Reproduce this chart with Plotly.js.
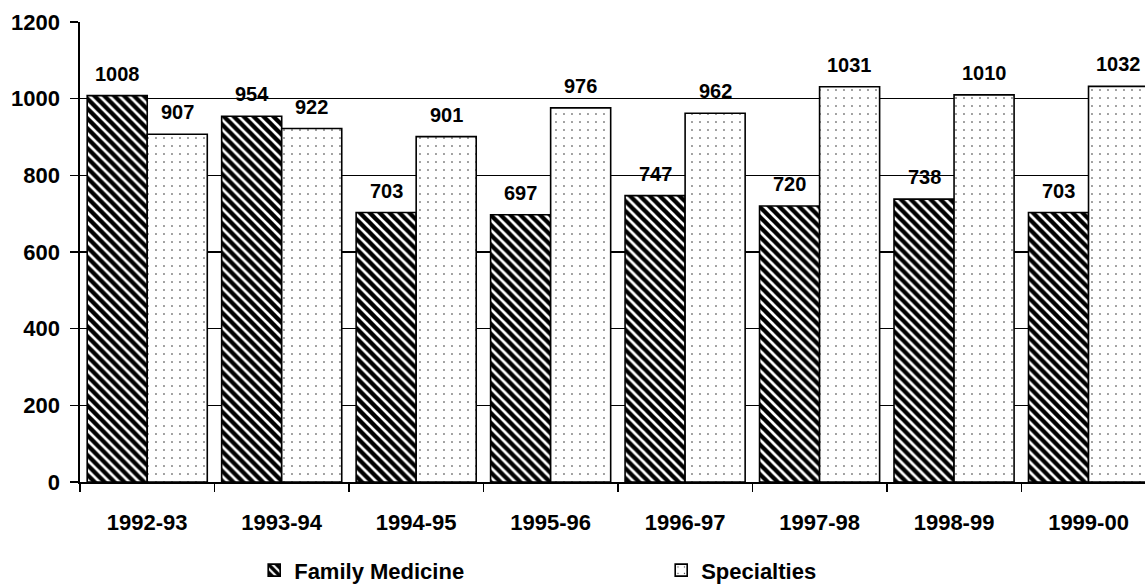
<!DOCTYPE html>
<html>
<head>
<meta charset="utf-8">
<script src="https://cdn.plot.ly/plotly-3.0.1.min.js"></script>
<style>
html,body{margin:0;padding:0;background:#fff;overflow:hidden;}
#chart{width:1145px;height:588px;}
</style>
</head>
<body>
<div id="chart"></div>
<script>
// ---- data ----
const years = ["1992-93","1993-94","1994-95","1995-96","1996-97","1997-98","1998-99","1999-00"];
const familyMedicine = [1008, 954, 703, 697, 747, 720, 738, 703];
const specialties = [907, 922, 901, 976, 962, 1031, 1010, 1032];
const seriesNames = ["Family Medicine", "Specialties"];
const yTicks = [0, 200, 400, 600, 800, 1000, 1200];

const FONT = "Liberation Sans, Arial, Helvetica, sans-serif";
const bargap = 0.107;
const half = (1 - bargap) / 4;

const traces = [
  {
    type: "bar", name: seriesNames[0], x: years, y: familyMedicine,
    marker: {
      color: "#ffffff",
      line: {color: "#000", width: 1.6},
      pattern: {shape: "\\", fgcolor: "#000", bgcolor: "#fff", size: 7, solidity: 0.62}
    },
    hoverinfo: "skip"
  },
  {
    type: "bar", name: seriesNames[1], x: years, y: specialties,
    marker: {
      color: "#ffffff",
      line: {color: "#000", width: 1.6},
      pattern: {shape: ".", fgcolor: "#222", bgcolor: "#fff", size: 8, solidity: 0.03}
    },
    hoverinfo: "skip"
  }
];

const labelFont = {family: FONT, size: 20, color: "#000", weight: 700};
const annotations = [];
years.forEach((yr, i) => {
  annotations.push({x: i - half, y: familyMedicine[i], xref: "x", yref: "y", text: String(familyMedicine[i]),
    showarrow: false, yanchor: "bottom", yshift: 9, font: labelFont});
  annotations.push({x: i + half, y: specialties[i], xref: "x", yref: "y", text: String(specialties[i]),
    showarrow: false, yanchor: "bottom", yshift: 9, font: labelFont});
});

const layout = {
  width: 1145, height: 588,
  margin: {l: 80, r: 0, t: 22, b: 106, autoexpand: false},
  paper_bgcolor: "#fff", plot_bgcolor: "#fff",
  barmode: "group", bargap: bargap, bargroupgap: 0,
  showlegend: true,
  legend: {
    orientation: "h", xref: "container", x: 0.222, xanchor: "left",
    yref: "container", y: 0.03, yanchor: "middle",
    font: {family: FONT, size: 22, color: "#000", weight: 700},
    entrywidth: 362, entrywidthmode: "pixels", traceorder: "normal",
    bgcolor: "rgba(0,0,0,0)"
  },
  xaxis: {
    type: "category", range: [-0.5, 7.42],
    showline: true, linecolor: "#000", linewidth: 1.6,
    ticks: "outside", tickson: "boundaries", ticklen: 8, tickwidth: 1.5, tickcolor: "#000",
    showgrid: false, zeroline: false,
    tickfont: {family: FONT, size: 22, color: "#000", weight: 700},
    ticklabelstandoff: 20
  },
  yaxis: {
    range: [0, 1200], tickvals: yTicks, ticktext: yTicks.map(String),
    showline: true, linecolor: "#000", linewidth: 1.6,
    ticks: "outside", ticklen: 8, tickwidth: 1.5, tickcolor: "#000",
    showgrid: true, gridcolor: "#000", gridwidth: 1.5, zeroline: false,
    tickfont: {family: FONT, size: 22, color: "#000", weight: 700},
    ticklabelstandoff: 6
  },
  annotations: annotations
};

Plotly.newPlot("chart", traces, layout, {displayModeBar: false, staticPlot: true});
</script>
</body>
</html>
